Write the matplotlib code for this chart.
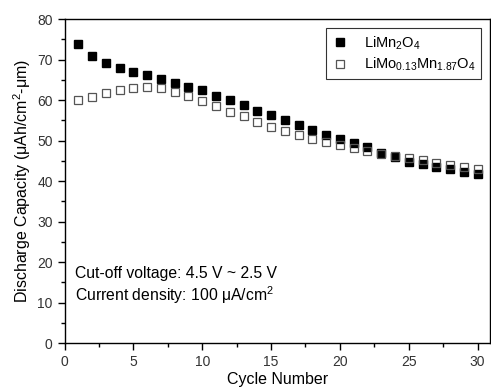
# discharge capacity vs cycle number
import numpy as np
import matplotlib
matplotlib.use('Agg')
import matplotlib.pyplot as plt
from matplotlib.ticker import MultipleLocator

plt.rcParams['font.family'] = ['Liberation Sans', 'DejaVu Sans']
plt.rcParams['mathtext.fontset'] = 'custom'
plt.rcParams['mathtext.rm'] = 'Liberation Sans'
plt.rcParams['mathtext.it'] = 'Liberation Sans:italic'

# data
cycles = np.arange(1, 31)
lmo = [73.8, 70.8, 69.1, 67.9, 66.9, 66.1, 65.2, 64.3, 63.2, 62.4,
       61.1, 59.9, 58.7, 57.4, 56.2, 55.0, 53.8, 52.5, 51.4, 50.3,
       49.3, 48.3, 46.9, 46.0, 44.8, 44.1, 43.4, 42.9, 42.3, 41.7]
lmmo = [59.9, 60.7, 61.7, 62.5, 63.0, 63.2, 63.0, 62.1, 61.1, 59.8,
        58.6, 57.1, 56.0, 54.6, 53.4, 52.4, 51.4, 50.5, 49.7, 48.9,
        48.1, 47.5, 46.8, 46.2, 45.8, 45.2, 44.4, 44.0, 43.5, 42.9]

labels = [r'LiMn$_\mathregular{2}$O$_\mathregular{4}$',
          r'LiMo$_\mathregular{0.13}$Mn$_\mathregular{1.87}$O$_\mathregular{4}$']

fig = plt.figure(figsize=(4.91, 3.9), dpi=100)
ax = fig.add_axes([0.1314, 0.1205, 0.8666, 0.8305])

ax.plot(cycles, lmo, ls='none', marker='s', ms=5.5, mfc='black', mec='black',
        label=labels[0], zorder=3)
ax.plot(cycles, lmmo, ls='none', marker='s', ms=5.8, mfc='none', mec='#555555',
        mew=0.9, label=labels[1], zorder=4)

ax.set_xlim(0, 30.9)
ax.set_ylim(0, 80)
ax.xaxis.set_major_locator(MultipleLocator(5))
ax.xaxis.set_minor_locator(MultipleLocator(2.5))
ax.yaxis.set_major_locator(MultipleLocator(10))
ax.yaxis.set_minor_locator(MultipleLocator(5))
ax.tick_params(which='major', direction='out', length=5, width=1, labelsize=10,
               labelcolor='#333333')
ax.tick_params(which='minor', direction='out', length=3, width=1)
for s in ax.spines.values():
    s.set_linewidth(1)

ax.set_xlabel('Cycle Number', fontsize=11.5, labelpad=2)
ax.set_ylabel(r'Discharge Capacity (μAh/cm$^\mathregular{2}$-μm)', fontsize=11.5, labelpad=3)

leg = ax.legend(loc='upper right', fontsize=10.5, frameon=True, fancybox=False,
                edgecolor='black', borderaxespad=0.3, handlelength=1.2,
                handletextpad=1.0, borderpad=0.4, labelspacing=0.3,
                bbox_to_anchor=(0.99, 0.985))
leg.get_frame().set_linewidth(0.8)

ax.text(0.025, 0.20, 'Cut-off voltage: 4.5 V ~ 2.5 V', transform=ax.transAxes,
        fontsize=11.3)
ax.text(0.025, 0.13, r'Current density: 100 μA/cm$^\mathregular{2}$', transform=ax.transAxes,
        fontsize=11.3)

fig.savefig('out.png', dpi=100)
